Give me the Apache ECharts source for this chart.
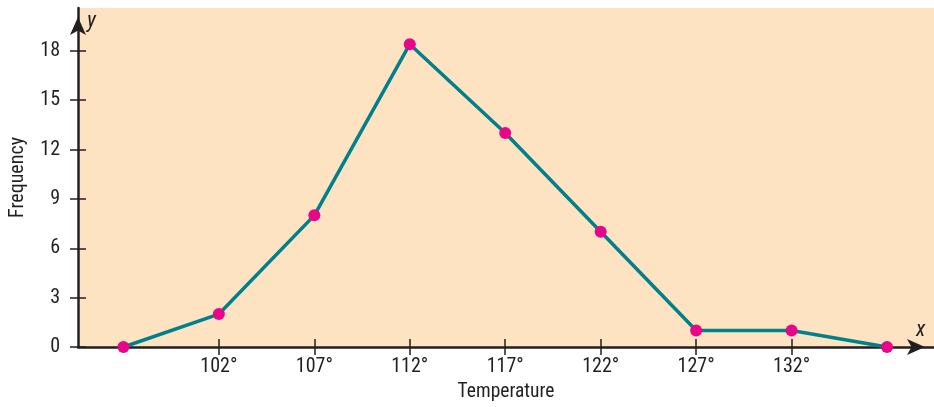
<!DOCTYPE html>
<html>
<head>
<meta charset="utf-8">
<script src="https://cdn.jsdelivr.net/npm/echarts@6/dist/echarts.min.js"></script>
<style>
  html, body { margin: 0; padding: 0; background: #ffffff; }
  #chart { width: 934px; height: 407px; }
</style>
</head>
<body>
<div id="chart"></div>
<script>
// Class midpoints (°) and their frequencies
const temps = [97, 102, 107, 112, 117, 122, 127, 132, 137];
const freq = [0, 2, 8, 18.4, 13, 7, 1, 1, 0];

// Tick positions shown on the axes
const xTicks = [102, 107, 112, 117, 122, 127, 132];
const yTicks = [0, 3, 6, 9, 12, 15, 18];

const FONT = '"Liberation Sans Narrow", "Arial Narrow", "Roboto Condensed", "Liberation Sans", sans-serif';
const INK = '#231F20';

const chart = echarts.init(document.getElementById('chart'), null, { renderer: 'canvas' });

const xRange = { min: 94.62, max: 139.46 };
const yRange = { min: 0, max: 20.6 };

// solid, slightly notched arrowhead at the end of each axis
function arrowLine() {
  return {
    show: true,
    onZero: false,
    lineStyle: { color: INK, width: 2.5 },
    symbol: ['none', 'arrow'],
    symbolSize: [12, 18],
    symbolOffset: [0, -9]
  };
}

chart.setOption({
  animation: false,
  backgroundColor: '#ffffff',
  grid: {
    show: true,
    left: 77.5,
    right: 0,
    top: 8,
    bottom: 58.2,
    backgroundColor: '#FDE3C2',
    borderWidth: 0
  },
  xAxis: [
    {
      type: 'value',
      min: xRange.min,
      max: xRange.max,
      position: 'bottom',
      name: 'Temperature',
      nameLocation: 'middle',
      nameGap: 35,
      nameTextStyle: { fontFamily: FONT, fontSize: 19.5, color: INK },
      splitLine: { show: false },
      axisLine: arrowLine(),
      axisTick: {
        show: true,
        inside: false,
        length: 8,
        customValues: xTicks,
        lineStyle: { color: INK, width: 1.5 }
      },
      axisLabel: {
        customValues: xTicks,
        margin: 10,
        fontFamily: FONT,
        fontSize: 20,
        color: INK,
        formatter: v => v + '°'
      }
    },
    {
      // inner half of the crossing tick marks
      type: 'value',
      min: xRange.min,
      max: xRange.max,
      position: 'bottom',
      splitLine: { show: false },
      axisLine: { show: false, onZero: false },
      axisLabel: { show: false },
      axisTick: {
        show: true,
        inside: true,
        length: 8,
        customValues: xTicks,
        lineStyle: { color: INK, width: 1.5 }
      }
    }
  ],
  yAxis: [
    {
      type: 'value',
      min: yRange.min,
      max: yRange.max,
      position: 'left',
      name: 'Frequency',
      nameLocation: 'middle',
      nameGap: 50,
      nameTextStyle: { fontFamily: FONT, fontSize: 20, color: INK },
      splitLine: { show: false },
      axisLine: arrowLine(),
      axisTick: {
        show: true,
        inside: false,
        length: 8,
        customValues: yTicks,
        lineStyle: { color: INK, width: 1.5 }
      },
      axisLabel: {
        customValues: yTicks,
        margin: 18,
        fontFamily: FONT,
        fontSize: 20,
        color: INK
      }
    },
    {
      type: 'value',
      min: yRange.min,
      max: yRange.max,
      position: 'left',
      splitLine: { show: false },
      axisLine: { show: false, onZero: false },
      axisLabel: { show: false },
      axisTick: {
        show: true,
        inside: true,
        length: 8,
        customValues: yTicks,
        lineStyle: { color: INK, width: 1.5 }
      }
    }
  ],
  graphic: [
    {
      type: 'text',
      left: 87,
      top: 10,
      style: { text: 'y', fontFamily: FONT, fontSize: 22, fontStyle: 'italic', fill: INK }
    },
    {
      type: 'text',
      left: 916,
      top: 319,
      style: { text: 'x', fontFamily: FONT, fontSize: 22, fontStyle: 'italic', fill: INK }
    }
  ],
  series: [
    {
      type: 'line',
      xAxisIndex: 0,
      yAxisIndex: 0,
      data: temps.map((t, i) => [t, freq[i]]),
      clip: false,
      symbol: 'circle',
      symbolSize: 12,
      lineStyle: { color: '#00808A', width: 3.5 },
      itemStyle: { color: '#E8058A', borderWidth: 0 },
      z: 5
    }
  ]
});
</script>
</body>
</html>
